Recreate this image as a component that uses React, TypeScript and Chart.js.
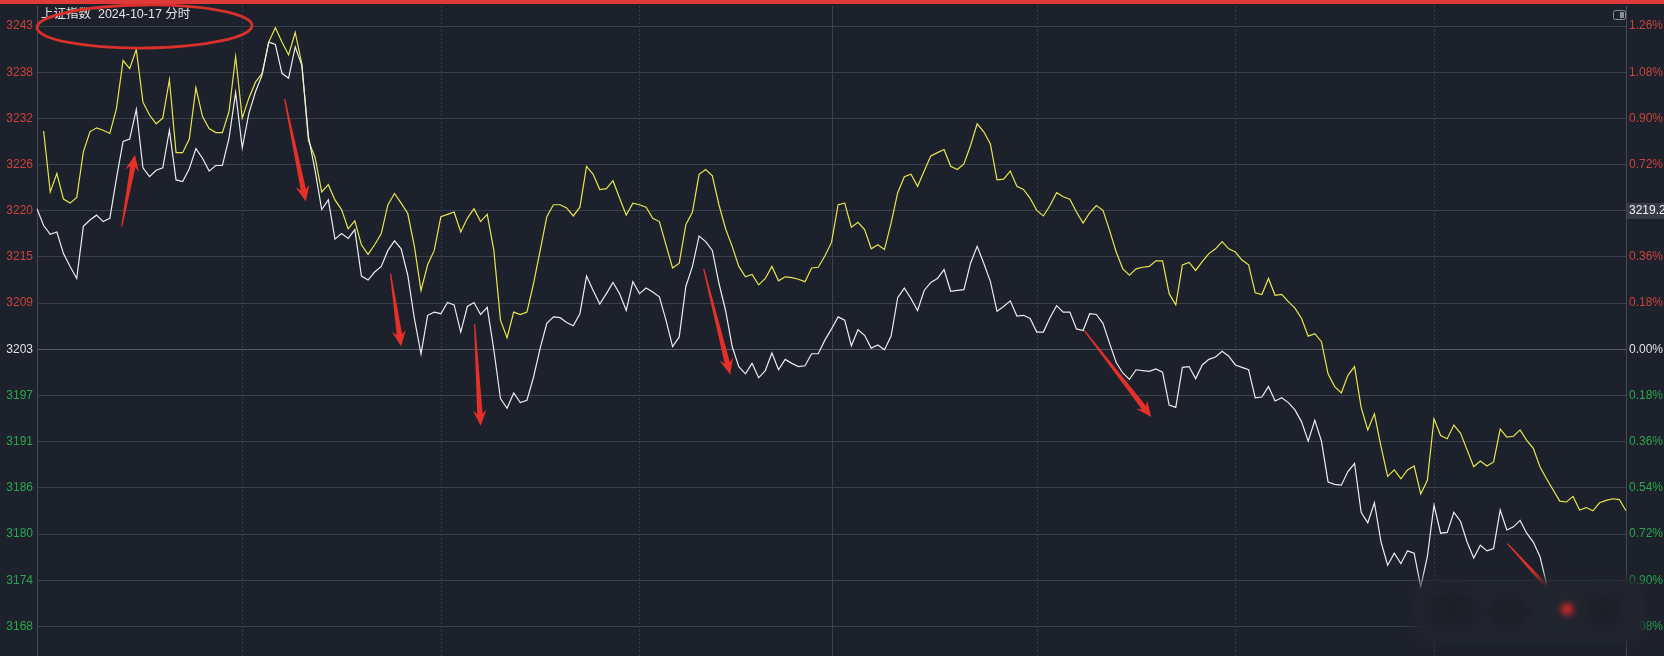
import { useEffect, useRef } from 'react';
import { Chart, registerables } from 'chart.js';

Chart.register(...registerables);

// ---------------- data ----------------
const prevClose = 3202.95;
const titleText = '上证指数  2024-10-17 分时';
const cursorLabel = '3219.2';
const cursorTickPct = 0.54;

const tickPcts = [-1.08, -0.9, -0.72, -0.54, -0.36, -0.18, 0, 0.18, 0.36, 0.54, 0.72, 0.9, 1.08, 1.26];
const leftTickLabels = ['3168', '3174', '3180', '3186', '3191', '3197', '3203', '3209', '3215', '3220', '3226', '3232', '3238', '3243'];
const rightTickLabels = ['1.08%', '0.90%', '0.72%', '0.54%', '0.36%', '0.18%', '0.00%', '0.18%', '0.36%', '0.54%', '0.72%', '0.90%', '1.08%', '1.26%'];
const axisMinPct = -1.195;
const axisMaxPct = 1.338;

function buildTimes(): string[] {
  const out: string[] = [];
  const fmt = (m: number) => `${String(Math.floor(m / 60)).padStart(2, '0')}:${String(m % 60).padStart(2, '0')}`;
  for (let m = 9 * 60 + 30; m <= 11 * 60 + 30; m++) out.push(fmt(m));
  for (let m = 13 * 60 + 1; m <= 15 * 60; m++) out.push(fmt(m));
  return out;
}
const timeLabels = buildTimes();

const dottedTimeLines = ['10:01', '10:31', '11:01', '13:31', '14:01', '14:31'];
const solidTimeLines = ['11:30'];

// 上证指数 (white)
const indexValues = [
  3220.5, 3218.4, 3217.3, 3217.6, 3214.9, 3213.3, 3211.8, 3218.3, 3219.1, 3219.7,
  3218.9, 3219.3, 3224.3, 3228.9, 3229.2, 3232.9, 3225.6, 3224.5, 3225.3, 3225.6,
  3230.3, 3224.1, 3223.9, 3225.5, 3228.0, 3226.8, 3225.2, 3225.9, 3225.9, 3229.3,
  3235.0, 3228.1, 3232.4, 3235.1, 3237.2, 3241.3, 3241.0, 3237.4, 3236.8, 3240.7,
  3238.4, 3229.5, 3225.3, 3220.4, 3221.6, 3216.7, 3217.4, 3216.8, 3217.9, 3212.1,
  3211.6, 3212.6, 3213.3, 3215.3, 3216.5, 3215.5, 3212.2, 3206.8, 3202.4, 3207.2,
  3207.6, 3207.4, 3208.8, 3208.5, 3205.1, 3208.3, 3208.8, 3207.3, 3208.2, 3202.9,
  3196.8, 3195.6, 3197.5, 3196.3, 3196.6, 3199.5, 3203.1, 3206.2, 3207.0, 3206.9,
  3206.3, 3205.9, 3207.4, 3212.1, 3210.3, 3208.6, 3209.9, 3211.3, 3209.9, 3207.8,
  3211.4, 3209.9, 3210.6, 3210.1, 3209.5, 3206.6, 3203.3, 3204.5, 3210.8, 3213.3,
  3217.1, 3216.4, 3215.3, 3211.2, 3207.8, 3203.3, 3200.8, 3199.9, 3201.2, 3199.4,
  3200.3, 3202.5, 3200.4, 3201.7, 3201.2, 3200.8, 3200.9, 3202.4, 3202.4, 3204.1,
  3205.5, 3207.0, 3206.6, 3203.4, 3205.4, 3204.7, 3203.1, 3203.5, 3202.9, 3204.6,
  3209.4, 3210.6, 3209.3, 3207.8, 3210.3, 3211.3, 3211.8, 3212.9, 3210.2, 3210.3,
  3210.4, 3213.7, 3215.8, 3213.7, 3211.4, 3207.7, 3208.3, 3209.0, 3207.1, 3207.2,
  3206.8, 3205.1, 3205.1, 3206.9, 3208.4, 3207.6, 3207.6, 3205.5, 3205.3, 3207.4,
  3207.3, 3206.2, 3203.7, 3201.3, 3200.0, 3199.2, 3200.4, 3200.3, 3200.2, 3200.5,
  3200.1, 3196.0, 3195.7, 3200.7, 3200.8, 3199.3, 3201.0, 3201.7, 3202.0, 3202.7,
  3202.1, 3201.0, 3200.7, 3200.4, 3196.9, 3197.0, 3198.3, 3196.5, 3196.9, 3196.3,
  3195.4, 3193.9, 3191.5, 3194.1, 3191.5, 3186.4, 3186.1, 3186.0, 3187.7, 3188.7,
  3182.6, 3181.3, 3183.8, 3178.9, 3176.0, 3177.5, 3176.2, 3177.8, 3177.5, 3173.3,
  3177.1, 3183.5, 3180.0, 3180.1, 3182.6, 3181.5, 3178.9, 3176.9, 3178.5, 3177.8,
  3178.1, 3182.9, 3180.4, 3180.8, 3181.6, 3180.0, 3178.9, 3177.1, 3173.7, 3172.2,
  3171.5, 3171.8, 3170.6, 3170.9, 3170.2, 3169.6, 3170.1, 3169.5, 3169.8, 3169.6,
  3169.4,
];

// 不含加权 (yellow)
const equalWeightValues = [
  null, 3230.2, 3222.6, 3224.9, 3221.7, 3221.2, 3221.9, 3227.6, 3230.1, 3230.6,
  3230.3, 3229.9, 3233.0, 3239.0, 3238.0, 3240.4, 3233.8, 3232.2, 3231.1, 3231.8,
  3236.6, 3227.5, 3227.5, 3229.2, 3235.6, 3232.0, 3230.5, 3230.0, 3230.0, 3232.6,
  3239.5, 3231.8, 3234.3, 3236.3, 3237.4, 3241.3, 3243.1, 3241.3, 3239.7, 3242.5,
  3238.6, 3229.0, 3226.9, 3222.6, 3223.5, 3221.6, 3220.4, 3218.0, 3219.0, 3216.0,
  3214.8, 3216.0, 3217.4, 3221.0, 3222.4, 3221.2, 3219.9, 3215.8, 3210.3, 3213.5,
  3215.3, 3219.5, 3219.8, 3220.1, 3217.6, 3219.3, 3220.5, 3218.9, 3219.8, 3215.3,
  3206.6, 3204.4, 3207.6, 3207.3, 3207.6, 3211.2, 3215.3, 3219.5, 3221.0, 3221.0,
  3220.6, 3219.6, 3220.7, 3225.8, 3224.8, 3222.9, 3223.0, 3224.0, 3221.8, 3219.7,
  3221.2, 3221.0, 3220.7, 3219.3, 3218.9, 3216.0, 3213.1, 3213.7, 3218.5, 3220.1,
  3224.8, 3225.4, 3224.6, 3221.0, 3218.0, 3215.8, 3213.3, 3212.0, 3212.3, 3211.0,
  3211.8, 3213.3, 3211.5, 3212.0, 3211.9, 3211.7, 3211.4, 3213.1, 3213.2, 3214.6,
  3216.3, 3221.0, 3221.2, 3218.2, 3218.8, 3217.9, 3215.5, 3216.0, 3215.4, 3218.7,
  3222.5, 3224.5, 3224.8, 3223.3, 3225.2, 3227.1, 3227.5, 3227.9, 3225.8, 3225.4,
  3226.1, 3228.4, 3231.1, 3230.1, 3228.6, 3224.1, 3224.2, 3225.2, 3223.3, 3222.9,
  3221.8, 3220.3, 3219.6, 3220.9, 3222.5, 3222.0, 3221.7, 3220.1, 3218.7, 3220.0,
  3220.9, 3220.3, 3217.8, 3215.1, 3213.0, 3212.2, 3213.0, 3213.2, 3213.3, 3214.0,
  3214.0, 3209.9, 3208.5, 3213.5, 3213.8, 3212.8, 3213.9, 3214.9, 3215.5, 3216.4,
  3215.5, 3215.1, 3214.1, 3213.5, 3210.0, 3209.8, 3211.8, 3209.7, 3209.8, 3208.9,
  3208.1, 3206.8, 3204.6, 3204.9, 3203.9, 3199.9, 3198.3, 3197.5, 3199.7, 3200.8,
  3195.7, 3192.9, 3194.9, 3190.8, 3187.1, 3187.9, 3186.8, 3187.9, 3188.4, 3184.9,
  3186.6, 3194.3, 3192.2, 3191.8, 3193.5, 3192.5, 3190.4, 3188.3, 3189.0, 3188.4,
  3188.9, 3193.0, 3192.0, 3192.1, 3192.9, 3191.6, 3190.6, 3188.3, 3186.8, 3185.4,
  3184.0, 3183.9, 3184.6, 3182.9, 3183.2, 3182.8, 3183.8, 3184.1, 3184.3, 3184.2,
  3182.8,
];

// red arrow annotations, anchored in data space: [fromIndex, fromValue, toIndex, toValue]
const arrowAnnotations = [
  [12.8, 3218.3, 14.8, 3227.2],
  [37.4, 3234.2, 40.6, 3221.4],
  [53.4, 3212.4, 55.0, 3203.3],
  [66.1, 3206.1, 67.0, 3193.4],
  [100.7, 3213.0, 104.7, 3199.8],
  [158.2, 3205.3, 168.3, 3194.5],
  [222.1, 3178.7, 231.7, 3170.0],
];

// ---------------- style ----------------
const BG = '#1d212b';
const GRID = '#3a404b';
const ZERO_GRID = '#535966';
const RED_TXT = '#c8433e';
const GREEN_TXT = '#2aa64c';
const WHITE_TXT = '#e2e2e2';
const FONT = '"Liberation Sans", Arial, "Noto Sans CJK SC", sans-serif';

function pctToValue(p: number) {
  return prevClose * (1 + p / 100);
}

function tickColor(v: number) {
  if (v > prevClose + 0.05) return RED_TXT;
  if (v < prevClose - 0.05) return GREEN_TXT;
  return WHITE_TXT;
}

function drawArrow(ctx: CanvasRenderingContext2D, x1: number, y1: number, x2: number, y2: number) {
  const dx = x2 - x1;
  const dy = y2 - y1;
  const L = Math.hypot(dx, dy);
  const ux = dx / L;
  const uy = dy / L;
  const nx = -uy;
  const ny = ux;
  const headLen = 16;
  const headW = 7;
  const shaftW = 2.7;
  const tailW = 0.6;
  const bx = x2 - ux * headLen;
  const by = y2 - uy * headLen;
  const sx = bx + ux * 4;
  const sy = by + uy * 4;
  ctx.beginPath();
  ctx.moveTo(x1 + nx * tailW, y1 + ny * tailW);
  ctx.lineTo(sx + nx * shaftW, sy + ny * shaftW);
  ctx.lineTo(bx + nx * headW, by + ny * headW);
  ctx.lineTo(x2, y2);
  ctx.lineTo(bx - nx * headW, by - ny * headW);
  ctx.lineTo(sx - nx * shaftW, sy - ny * shaftW);
  ctx.lineTo(x1 - nx * tailW, y1 - ny * tailW);
  ctx.closePath();
  ctx.fill();
}

const decorPlugin = {
  id: 'decor',
  beforeDraw(chart: any) {
    const { ctx, width, height } = chart;
    ctx.save();
    ctx.fillStyle = BG;
    ctx.fillRect(0, 0, width, height);
    const y2 = chart.scales.y2;
    const yy = y2.getPixelForValue(pctToValue(cursorTickPct));
    ctx.fillStyle = '#353a45';
    ctx.fillRect(y2.left + 1, Math.round(yy) - 8, width - y2.left - 1, 16);
    ctx.restore();
  },
  beforeDatasetsDraw(chart: any) {
    const { ctx, chartArea } = chart;
    const x = chart.scales.x;
    ctx.save();
    ctx.lineWidth = 1;
    ctx.strokeStyle = '#363b46';
    ctx.setLineDash([2, 2]);
    dottedTimeLines.forEach((t) => {
      const px = Math.round(x.getPixelForValue(timeLabels.indexOf(t))) + 0.5;
      ctx.beginPath();
      ctx.moveTo(px, chartArea.top);
      ctx.lineTo(px, chartArea.bottom);
      ctx.stroke();
    });
    ctx.setLineDash([]);
    ctx.strokeStyle = '#3c424d';
    solidTimeLines.forEach((t) => {
      const px = Math.round(x.getPixelForValue(timeLabels.indexOf(t))) + 0.5;
      ctx.beginPath();
      ctx.moveTo(px, chartArea.top);
      ctx.lineTo(px, chartArea.bottom);
      ctx.stroke();
    });
    ctx.restore();
  },
  afterDraw(chart: any) {
    const { ctx, width } = chart;
    const x = chart.scales.x;
    const y = chart.scales.y;
    ctx.save();
    // top red strip
    ctx.fillStyle = '#de3a3a';
    ctx.fillRect(0, 0, width, 4);
    // title
    ctx.font = `12.5px ${FONT}`;
    ctx.fillStyle = '#e4e4e4';
    ctx.textAlign = 'left';
    ctx.textBaseline = 'middle';
    ctx.fillText(titleText, 41, 15);
    // small icon at top right
    ctx.strokeStyle = '#8a8f99';
    ctx.lineWidth = 1;
    ctx.beginPath();
    ctx.roundRect(1613.5, 10.5, 12, 9, 2);
    ctx.stroke();
    ctx.fillStyle = '#8a8f99';
    ctx.fillRect(1620, 12, 4, 6);
    // arrows
    ctx.fillStyle = '#e5302a';
    arrowAnnotations.forEach(([i1, v1, i2, v2]) => {
      drawArrow(ctx, x.getPixelForValue(i1), y.getPixelForValue(v1), x.getPixelForValue(i2), y.getPixelForValue(v2));
    });
    // red ellipse around the title
    ctx.strokeStyle = '#d8302b';
    ctx.lineWidth = 2.8;
    ctx.beginPath();
    ctx.ellipse(144.5, 26.5, 107.5, 21.5, -0.01, 0, Math.PI * 2);
    ctx.stroke();
    // blurred watermark patch (bottom right)
    ctx.filter = 'blur(6px)';
    ctx.fillStyle = 'rgb(33,37,46)';
    ctx.beginPath();
    ctx.roundRect(1414, 578, 232, 66, 16);
    ctx.fill();
    ctx.fillStyle = 'rgba(24,27,34,0.55)';
    ctx.beginPath();
    ctx.roundRect(1430, 592, 44, 34, 10);
    ctx.roundRect(1488, 598, 40, 28, 10);
    ctx.roundRect(1586, 596, 36, 30, 10);
    ctx.fill();
    // blurred red remnant of the last arrow head
    const last = arrowAnnotations[arrowAnnotations.length - 1];
    const tx = x.getPixelForValue(last[2]);
    const ty = y.getPixelForValue(last[3]);
    ctx.filter = 'blur(3px)';
    ctx.fillStyle = 'rgba(235,40,40,0.9)';
    ctx.beginPath();
    ctx.arc(tx - 4, ty - 4, 6, 0, Math.PI * 2);
    ctx.fill();
    ctx.filter = 'none';
    ctx.restore();
  },
};

export default function App() {
  const ref = useRef<HTMLCanvasElement | null>(null);
  useEffect(() => {
    document.body.style.margin = '0';
    const canvas = ref.current;
    if (!canvas) return;
    const yAfterBuild = (scale: any) => {
      scale.ticks = tickPcts.map((p) => ({ value: pctToValue(p) }));
    };
    const chart = new Chart(canvas, {
      type: 'line',
      data: {
        labels: timeLabels,
        datasets: [
          {
            label: '上证指数',
            data: indexValues,
            borderColor: '#ececec',
            borderWidth: 1.2,
            pointRadius: 0,
            tension: 0,
            yAxisID: 'y',
          },
          {
            label: '不含加权',
            data: equalWeightValues,
            borderColor: '#e6e64c',
            borderWidth: 1.2,
            pointRadius: 0,
            tension: 0,
            yAxisID: 'y',
          },
        ],
      },
      options: {
        animation: false,
        responsive: true,
        maintainAspectRatio: false,
        devicePixelRatio: 1,
        layout: { padding: { top: 6, bottom: 0, left: 0, right: 0 } },
        plugins: { legend: { display: false }, tooltip: { enabled: false }, title: { display: false } },
        events: [],
        scales: {
          x: {
            type: 'category',
            offset: false,
            grid: { display: false },
            border: { display: false },
            ticks: { display: false },
            afterFit: (s: any) => {
              s.height = 0;
              s.paddingLeft = 0;
              s.paddingRight = 0;
            },
          },
          y: {
            position: 'left',
            min: pctToValue(axisMinPct),
            max: pctToValue(axisMaxPct),
            afterBuildTicks: yAfterBuild,
            afterFit: (s: any) => {
              s.width = 37;
              s.paddingTop = 0;
              s.paddingBottom = 0;
            },
            grid: {
              drawTicks: false,
              lineWidth: 1,
              color: (c: any) => (c.tick && Math.abs(c.tick.value - prevClose) < 0.05 ? ZERO_GRID : GRID),
            },
            border: { display: true, color: '#434955', width: 1 },
            ticks: {
              autoSkip: false,
              padding: 4,
              font: { size: 12, family: FONT },
              color: (c: any) => tickColor(c.tick.value),
              callback: (_v: any, i: number) => leftTickLabels[i],
            },
          },
          y2: {
            position: 'right',
            min: pctToValue(axisMinPct),
            max: pctToValue(axisMaxPct),
            afterBuildTicks: yAfterBuild,
            afterFit: (s: any) => {
              s.width = 38;
              s.paddingTop = 0;
              s.paddingBottom = 0;
            },
            grid: { drawOnChartArea: false, drawTicks: false },
            border: { display: true, color: '#434955', width: 1 },
            ticks: {
              autoSkip: false,
              padding: 3,
              font: { size: 12, family: FONT },
              color: (c: any) =>
                Math.abs(c.tick.value - pctToValue(cursorTickPct)) < 0.05 ? '#f0f0f0' : tickColor(c.tick.value),
              callback: (v: any, i: number) =>
                Math.abs(Number(v) - pctToValue(cursorTickPct)) < 0.05 ? cursorLabel : rightTickLabels[i],
            },
          },
        },
      },
      plugins: [decorPlugin],
    } as any);
    return () => chart.destroy();
  }, []);
  return (
    <div style={{ position: 'fixed', left: 0, top: 0, width: 1664, height: 656, background: BG }}>
      <canvas ref={ref} />
    </div>
  );
}
